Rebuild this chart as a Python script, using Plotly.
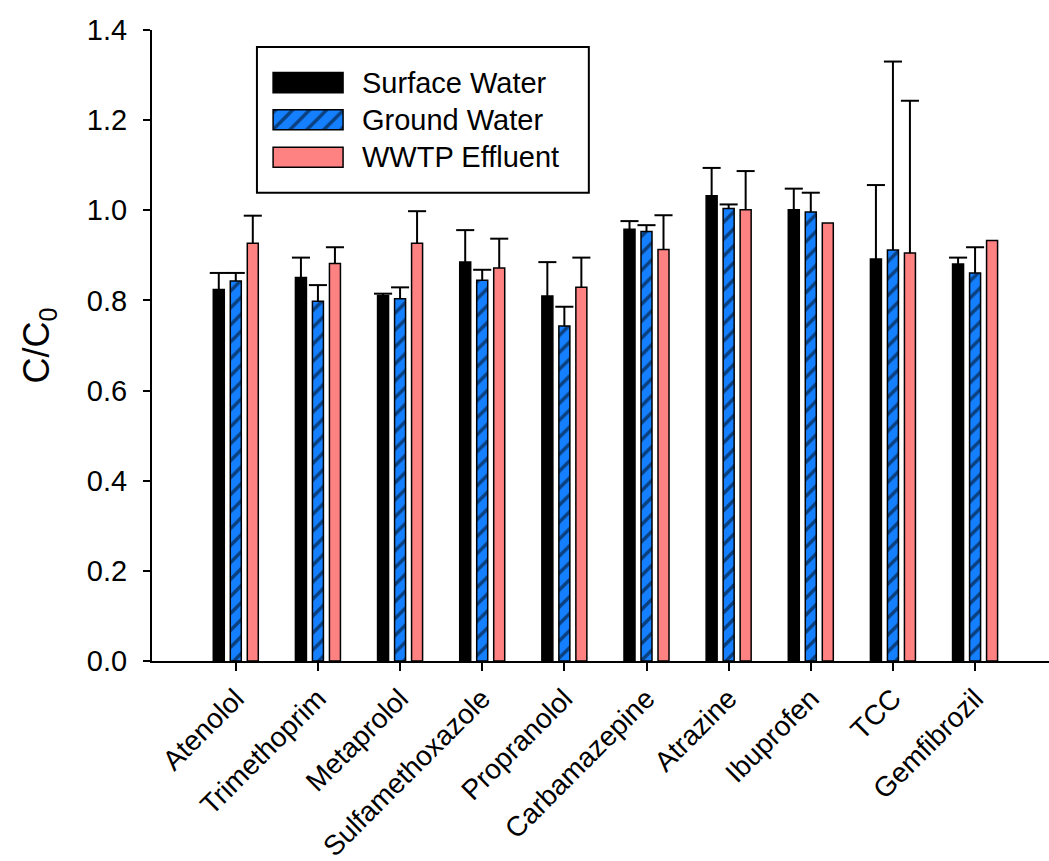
import plotly.graph_objects as go

# Compounds on the x axis
categories = ["Atenolol", "Trimethoprim", "Metaprolol", "Sulfamethoxazole", "Propranolol",
              "Carbamazepine", "Atrazine", "Ibuprofen", "TCC", "Gemfibrozil"]

# C/C0 means and upper error (standard deviation) per water matrix
surface_water = [0.824, 0.851, 0.811, 0.885, 0.810, 0.958, 1.032, 1.001, 0.892, 0.881]
surface_water_err = [0.037, 0.044, 0.004, 0.071, 0.075, 0.018, 0.062, 0.047, 0.164, 0.014]

ground_water = [0.843, 0.798, 0.804, 0.845, 0.743, 0.953, 1.004, 0.996, 0.912, 0.861]
ground_water_err = [0.018, 0.036, 0.025, 0.023, 0.043, 0.014, 0.009, 0.043, 0.418, 0.057]

wwtp_effluent = [0.927, 0.882, 0.927, 0.872, 0.829, 0.913, 1.001, 0.972, 0.905, 0.933]
wwtp_effluent_err = [0.061, 0.036, 0.071, 0.065, 0.066, 0.076, 0.086, 0.0, 0.338, 0.0]

y_ticks = [0.0, 0.2, 0.4, 0.6, 0.8, 1.0, 1.2, 1.4]

FONT = "Arial, Liberation Sans, sans-serif"
SLOT = 0.207       # distance between neighbouring bars within a group
BAR_W = 0.134      # bar width (x units)
CAP_HW = 0.11      # half width of error caps

series = [
    dict(name="Surface Water", y=surface_water, err=surface_water_err, slot=-1,
         marker=dict(color="#000000", line=dict(color="#000000", width=1.5))),
    dict(name="Ground Water", y=ground_water, err=ground_water_err, slot=0,
         marker=dict(color="#1580FF", line=dict(color="#000000", width=1.5),
                     pattern=dict(shape="/", fgcolor="#000000", bgcolor="#1580FF",
                                  size=12, solidity=0.28))),
    dict(name="WWTP Effluent", y=wwtp_effluent, err=wwtp_effluent_err, slot=1,
         marker=dict(color="#FF8282", line=dict(color="#000000", width=1.5))),
]

fig = go.Figure()

for s in series:
    xs = [i + s["slot"] * SLOT for i in range(len(categories))]
    fig.add_trace(go.Bar(x=xs, y=s["y"], width=BAR_W, marker=s["marker"],
                         name=s["name"], showlegend=False))

# One-sided (upper) error bars
for s in series:
    ex, ey = [], []
    for i, (v, e) in enumerate(zip(s["y"], s["err"])):
        if e <= 0:
            continue
        xc = i + s["slot"] * SLOT
        top = v + e
        ex += [xc, xc, None, xc - CAP_HW, xc + CAP_HW, None]
        ey += [v, top, None, top, top, None]
    fig.add_trace(go.Scatter(x=ex, y=ey, mode="lines", showlegend=False,
                             line=dict(color="#000000", width=2), hoverinfo="skip"))

# Legend drawn on overlay axes spanning the plot area (0..1 each way)
leg_x_swatch = 0.174
leg_swatch_w = 0.078
leg_swatch_h = 0.032
leg_rows = [0.9165, 0.8578, 0.7983]
leg_text_x = 0.232
for s, yc in zip(series, leg_rows):
    fig.add_trace(go.Bar(x=[leg_x_swatch], y=[leg_swatch_h], base=[yc - leg_swatch_h / 2],
                         width=leg_swatch_w, marker=s["marker"], xaxis="x2", yaxis="y2",
                         showlegend=False, hoverinfo="skip"))
    fig.add_annotation(x=leg_text_x, y=yc, xref="x2", yref="y2", text=s["name"],
                       showarrow=False, xanchor="left", yanchor="middle",
                       font=dict(family=FONT, size=29, color="#000000"))

fig.add_shape(type="rect", xref="paper", yref="paper", x0=0.117, x1=0.487, y0=0.742, y1=0.973,
              line=dict(color="#000000", width=2), fillcolor="rgba(0,0,0,0)")

fig.update_layout(
    width=1049, height=861,
    margin=dict(l=152, r=0, t=30, b=200),
    paper_bgcolor="white", plot_bgcolor="white",
    barmode="overlay",
    showlegend=False,
    font=dict(family=FONT, color="#000000"),
    xaxis=dict(range=[-1.02, 9.9], tickvals=list(range(len(categories))), ticktext=categories,
               tickangle=-45, ticks="outside", ticklen=8, tickwidth=2, tickcolor="#000000",
               showline=True, linewidth=2, linecolor="#000000", showgrid=False, zeroline=False,
               tickfont=dict(family=FONT, size=28, color="#000000")),
    yaxis=dict(range=[0, 1.4], tickvals=y_ticks, ticktext=[f"{v:.1f}" for v in y_ticks],
               ticks="outside", ticklen=7, tickwidth=2, tickcolor="#000000",
               showline=True, linewidth=2, linecolor="#000000", showgrid=False, zeroline=False,
               ticklabelstandoff=10,
               tickfont=dict(family=FONT, size=29, color="#000000"),
               title=dict(text="C/C<sub>0</sub>", standoff=26,
                          font=dict(family=FONT, size=36, color="#000000"))),
    xaxis2=dict(overlaying="x", anchor="y2", range=[0, 1], visible=False, fixedrange=True),
    yaxis2=dict(overlaying="y", anchor="x2", range=[0, 1], visible=False, fixedrange=True),
)

fig.write_html("out.html")
